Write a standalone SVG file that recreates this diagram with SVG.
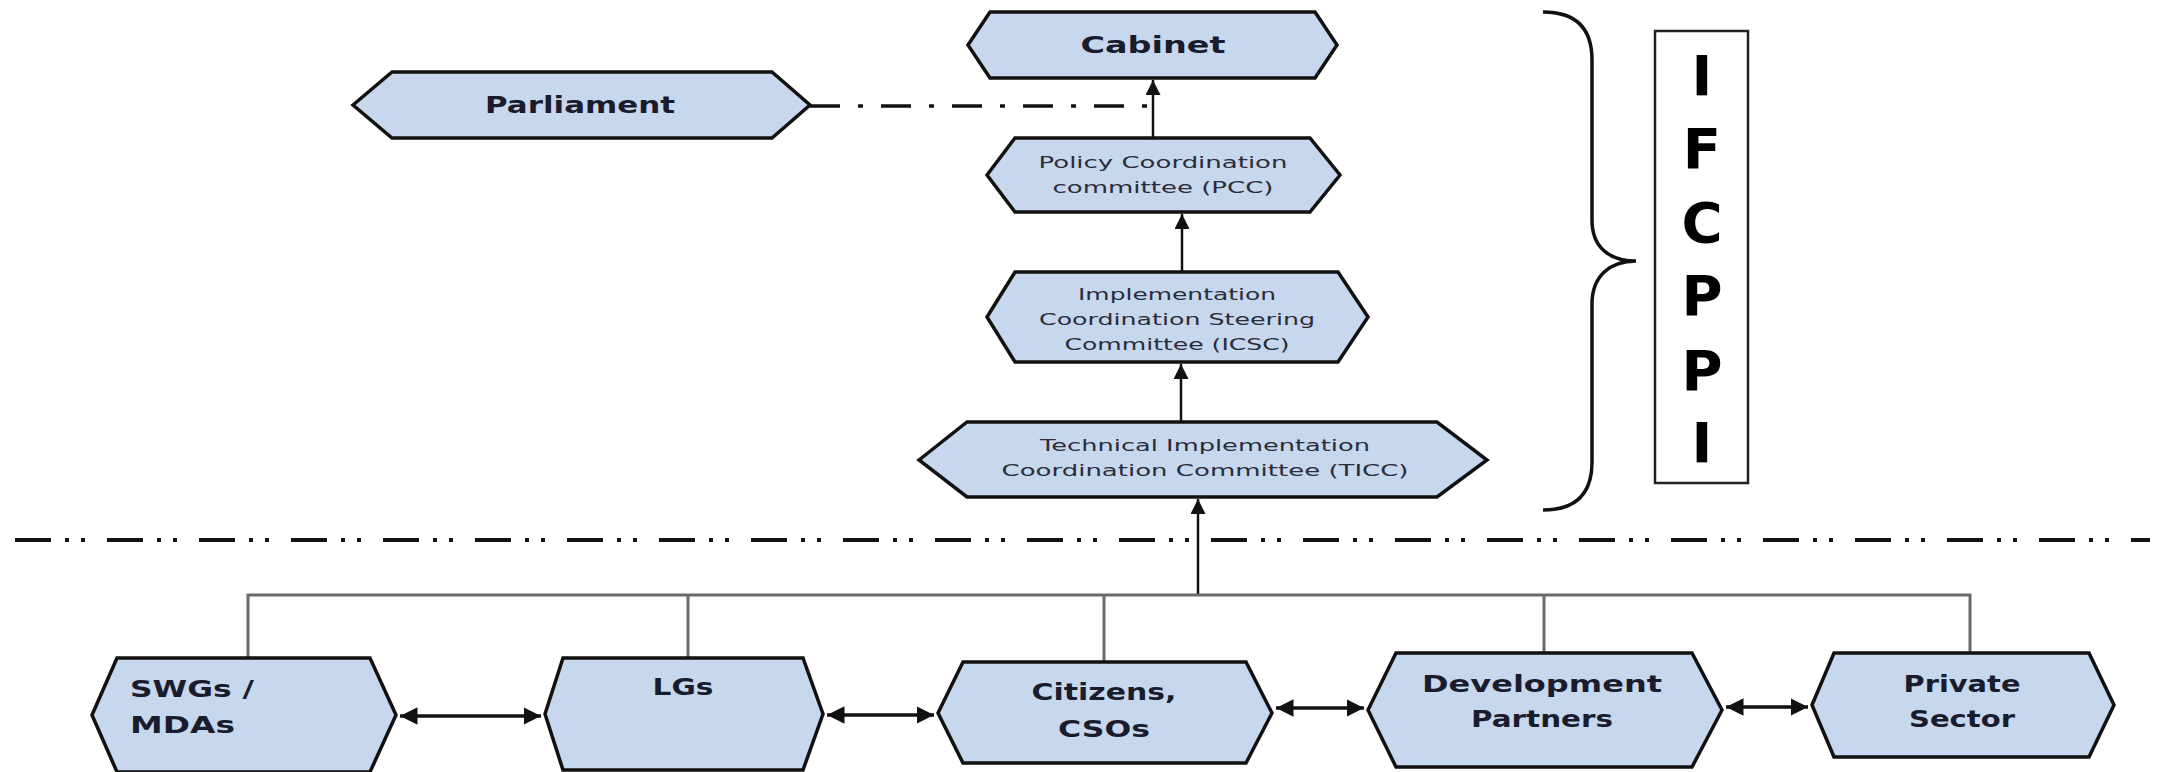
<svg xmlns="http://www.w3.org/2000/svg" width="2160" height="772" viewBox="0 0 2160 772">
<style>
.hex{fill:#c6d7ee;stroke:#111;stroke-width:3.5;stroke-linejoin:miter}
.big{font-family:"DejaVu Sans","Liberation Sans",sans-serif;font-weight:bold;font-size:23px;fill:#1a1c2c}
.sm{font-family:"DejaVu Sans","Liberation Sans",sans-serif;font-size:15px;fill:#2c2c38;text-anchor:middle}
.mid{text-anchor:middle}
.arr{stroke:#111;stroke-width:2.5;fill:none}
.dbl{stroke:#111;stroke-width:3.5;fill:none}
.bus{stroke:#6a6a6a;stroke-width:3;fill:none}
.ifc{font-family:"DejaVu Sans","Liberation Sans",sans-serif;font-weight:bold;font-size:56px;fill:#000;text-anchor:middle}
</style>
<defs>
<marker id="ah" viewBox="0 0 10 10" refX="10" refY="5" markerWidth="6" markerHeight="6" orient="auto-start-reverse" markerUnits="strokeWidth">
<path d="M0,0 L10,5 L0,10 z" fill="#111"/>
</marker>
<marker id="ah2" viewBox="0 0 10 10" refX="10" refY="5" markerWidth="5" markerHeight="5" orient="auto-start-reverse" markerUnits="strokeWidth">
<path d="M0,0 L10,5 L0,10 z" fill="#111"/>
</marker>
</defs>
<rect width="2160" height="772" fill="#fff"/>

<g id="connectors">
<path d="M810,106 L1153,106" stroke="#111" stroke-width="3.5" stroke-dasharray="30 18 5 18" fill="none"/>
<path d="M15,540 L2150,540" stroke="#111" stroke-width="4" stroke-dasharray="36 14 4 12 4 22" fill="none"/>
<path class="arr" d="M1153,138 L1153,80" marker-end="url(#ah)"/>
<path class="arr" d="M1182,272 L1182,214" marker-end="url(#ah)"/>
<path class="arr" d="M1181,422 L1181,364" marker-end="url(#ah)"/>
<path class="arr" d="M1198,595 L1198,499" marker-end="url(#ah)"/>
<path class="bus" d="M248,658 L248,595 L1970,595 L1970,653"/>
<path class="bus" d="M688,595 L688,658"/>
<path class="bus" d="M1104,595 L1104,662"/>
<path class="bus" d="M1544,595 L1544,653"/>
<path class="dbl" d="M400,716 L541,716" marker-start="url(#ah2)" marker-end="url(#ah2)"/>
<path class="dbl" d="M827,715 L934,715" marker-start="url(#ah2)" marker-end="url(#ah2)"/>
<path class="dbl" d="M1276,708 L1364,708" marker-start="url(#ah2)" marker-end="url(#ah2)"/>
<path class="dbl" d="M1726,707 L1808,707" marker-start="url(#ah2)" marker-end="url(#ah2)"/>
</g>

<g id="cabinet">
<polygon class="hex" points="968,45 990,12 1315,12 1337,45 1315,78 990,78"/>
<text class="big mid" x="1153" y="53" textLength="145" lengthAdjust="spacingAndGlyphs">Cabinet</text>
</g>
<g id="parliament">
<polygon class="hex" points="353,105 392,72 772,72 810,105 772,138 392,138"/>
<text class="big mid" x="580" y="113" textLength="190" lengthAdjust="spacingAndGlyphs">Parliament</text>
</g>
<g id="pcc">
<polygon class="hex" points="987,175 1015,138 1310,138 1340,175 1310,212 1015,212"/>
<text class="sm" x="1163" y="168" textLength="249" lengthAdjust="spacingAndGlyphs">Policy Coordination</text>
<text class="sm" x="1163" y="193" textLength="221" lengthAdjust="spacingAndGlyphs">committee (PCC)</text>
</g>
<g id="icsc">
<polygon class="hex" points="987,317 1015,272 1338,272 1368,317 1338,362 1015,362"/>
<text class="sm" x="1177" y="300" textLength="198" lengthAdjust="spacingAndGlyphs">Implementation</text>
<text class="sm" x="1177" y="325" textLength="276" lengthAdjust="spacingAndGlyphs">Coordination Steering</text>
<text class="sm" x="1177" y="350" textLength="225" lengthAdjust="spacingAndGlyphs">Committee (ICSC)</text>
</g>
<g id="ticc">
<polygon class="hex" points="919,460 967,422 1437,422 1487,460 1437,497 967,497"/>
<text class="sm" x="1205" y="451" textLength="330" lengthAdjust="spacingAndGlyphs">Technical Implementation</text>
<text class="sm" x="1205" y="476" textLength="407" lengthAdjust="spacingAndGlyphs">Coordination Committee (TICC)</text>
</g>

<g id="ifcppi">
<path d="M1543,12 C1578,12 1592,30 1592,60 L1592,220 C1592,248 1610,261 1636,261 C1610,261 1592,276 1592,304 L1592,462 C1592,492 1578,510 1543,510" stroke="#111" stroke-width="3.5" fill="none"/>
<rect x="1655" y="31" width="93" height="452" fill="#fff" stroke="#222" stroke-width="2.5"/>
<text class="ifc" x="1702" y="95">I</text>
<text class="ifc" x="1702" y="168">F</text>
<text class="ifc" x="1702" y="242">C</text>
<text class="ifc" x="1702" y="315">P</text>
<text class="ifc" x="1702" y="390">P</text>
<text class="ifc" x="1702" y="462">I</text>
</g>

<g id="swgs">
<polygon class="hex" points="92,715 117,658 370,658 396,715 370,772 117,772"/>
<text class="big" x="130" y="697" textLength="124" lengthAdjust="spacingAndGlyphs">SWGs /</text>
<text class="big" x="130" y="733" textLength="105" lengthAdjust="spacingAndGlyphs">MDAs</text>
</g>
<g id="lgs">
<polygon class="hex" points="545,714 563,658 803,658 823,714 803,770 563,770"/>
<text class="big mid" x="683" y="695" textLength="61" lengthAdjust="spacingAndGlyphs">LGs</text>
</g>
<g id="citizens">
<polygon class="hex" points="938,713 963,662 1246,662 1272,713 1246,763 963,763"/>
<text class="big mid" x="1104" y="700" textLength="145" lengthAdjust="spacingAndGlyphs">Citizens,</text>
<text class="big mid" x="1104" y="737" textLength="92" lengthAdjust="spacingAndGlyphs">CSOs</text>
</g>
<g id="dev-partners">
<polygon class="hex" points="1368,710 1396,653 1692,653 1722,710 1692,767 1396,767"/>
<text class="big mid" x="1542" y="692" textLength="240" lengthAdjust="spacingAndGlyphs">Development</text>
<text class="big mid" x="1542" y="727" textLength="142" lengthAdjust="spacingAndGlyphs">Partners</text>
</g>
<g id="private-sector">
<polygon class="hex" points="1812,705 1834,653 2089,653 2114,705 2089,757 1834,757"/>
<text class="big mid" x="1962" y="692" textLength="117" lengthAdjust="spacingAndGlyphs">Private</text>
<text class="big mid" x="1962" y="727" textLength="106" lengthAdjust="spacingAndGlyphs">Sector</text>
</g>
</svg>
